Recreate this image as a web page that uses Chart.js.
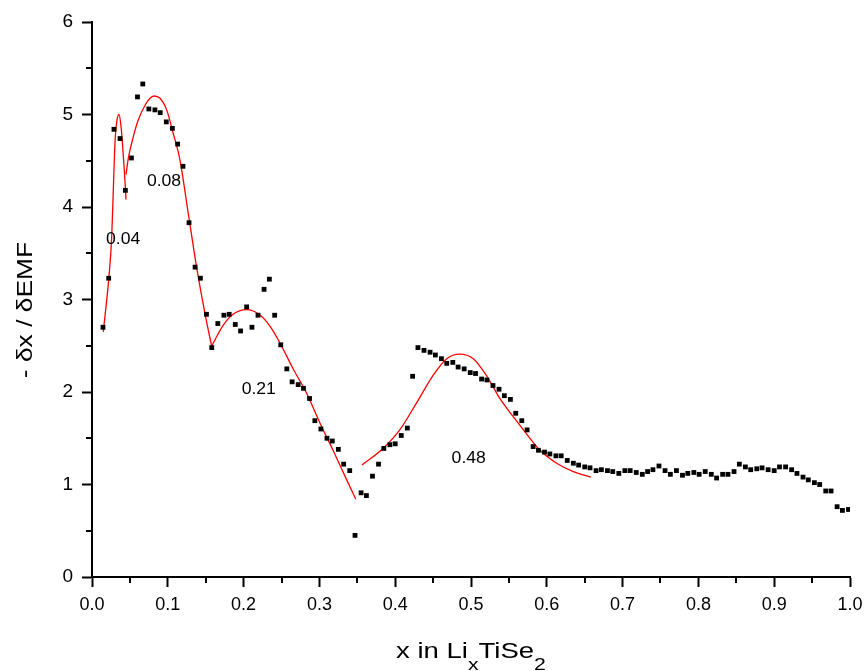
<!DOCTYPE html>
<html>
<head>
<meta charset="utf-8">
<script src="https://cdn.jsdelivr.net/npm/chart.js@4.4.1/dist/chart.umd.min.js"></script>
<style>
  html, body { margin: 0; padding: 0; background: #fff; }
  #wrap { width: 866px; height: 671px; position: relative; }
</style>
</head>
<body>
<div id="wrap"><canvas id="chart"></canvas></div>
<script>
// measured points: x in LixTiSe2 and -dx/dEMF
const xData = [
  0.0145, 0.022, 0.029, 0.037, 0.044, 0.052, 0.060, 0.067, 0.075, 0.083,
  0.090, 0.098, 0.106, 0.113, 0.120, 0.128, 0.136, 0.143, 0.151, 0.158,
  0.166, 0.174, 0.181, 0.189, 0.196, 0.204, 0.211, 0.219, 0.227, 0.234,
  0.241, 0.249, 0.257, 0.264, 0.272, 0.279, 0.287, 0.294, 0.302, 0.310,
  0.317, 0.325, 0.332, 0.340, 0.347, 0.355, 0.362, 0.370, 0.378, 0.385,
  0.393, 0.400, 0.408, 0.416, 0.423, 0.430, 0.438, 0.446, 0.453, 0.461,
  0.468, 0.476, 0.483, 0.491, 0.499, 0.506, 0.514, 0.521, 0.529, 0.537,
  0.544, 0.552, 0.559, 0.567, 0.574, 0.582, 0.589, 0.597, 0.604, 0.612,
  0.619, 0.627, 0.635, 0.642, 0.650, 0.657, 0.665, 0.672, 0.680, 0.687,
  0.695, 0.703, 0.710, 0.718, 0.726, 0.733, 0.740, 0.748, 0.756, 0.763,
  0.771, 0.779, 0.786, 0.794, 0.801, 0.809, 0.817, 0.824, 0.832, 0.839,
  0.847, 0.854, 0.862, 0.869, 0.877, 0.884, 0.892, 0.900, 0.907, 0.915,
  0.923, 0.930, 0.938, 0.945, 0.953, 0.960, 0.968, 0.975, 0.983, 0.990,
  0.998
];
const yData = [
  2.70, 3.23, 4.84, 4.74, 4.18, 4.53, 5.19, 5.33, 5.06, 5.05,
  5.02, 4.92, 4.85, 4.68, 4.44, 3.83, 3.35, 3.23, 2.84, 2.48,
  2.74, 2.83, 2.84, 2.73, 2.66, 2.92, 2.70, 2.83, 3.11, 3.22,
  2.83, 2.51, 2.25, 2.11, 2.08, 2.04, 1.93, 1.69, 1.60, 1.50,
  1.47, 1.38, 1.22, 1.15, 0.45, 0.91, 0.88, 1.09, 1.22, 1.39,
  1.43, 1.44, 1.53, 1.61, 2.17, 2.48, 2.45, 2.43, 2.40, 2.36,
  2.31, 2.32, 2.27, 2.25, 2.21, 2.20, 2.14, 2.13, 2.07, 2.03,
  1.96, 1.92, 1.77, 1.69, 1.59, 1.41, 1.37, 1.35, 1.33, 1.31,
  1.31, 1.26, 1.23, 1.21, 1.19, 1.18, 1.15, 1.16, 1.15, 1.14,
  1.12, 1.15, 1.15, 1.13, 1.11, 1.14, 1.16, 1.20, 1.15, 1.11,
  1.15, 1.10, 1.12, 1.13, 1.11, 1.14, 1.11, 1.07, 1.11, 1.11,
  1.14, 1.22, 1.19, 1.16, 1.17, 1.18, 1.16, 1.15, 1.19, 1.19,
  1.16, 1.12, 1.08, 1.05, 1.02, 1.00, 0.93, 0.93, 0.76, 0.72,
  0.73
];

// red fitted peaks
const fit004X = [0.0149, 0.0224, 0.0260, 0.0281, 0.0303, 0.0326, 0.0356, 0.0383, 0.0405, 0.0426, 0.0449];
const fit004Y = [2.65, 3.25, 3.68, 4.18, 4.69, 4.92, 5.00, 4.87, 4.65, 4.40, 4.08];

const fit008X = [0.0449, 0.048, 0.0545, 0.061, 0.070, 0.0765, 0.0818, 0.0897, 0.0985, 0.107, 0.116, 0.127, 0.138, 0.149, 0.158];
const fit008Y = [4.35, 4.53, 4.76, 4.94, 5.10, 5.175, 5.20, 5.175, 5.05, 4.80, 4.51, 3.93, 3.35, 2.85, 2.49];

const fit021X = [0.158, 0.173, 0.186, 0.204, 0.222, 0.235, 0.248, 0.266, 0.283, 0.301, 0.318, 0.336, 0.348];
const fit021Y = [2.50, 2.72, 2.84, 2.89, 2.83, 2.71, 2.53, 2.24, 1.99, 1.66, 1.37, 1.05, 0.84];

const fit048X = [0.356, 0.384, 0.406, 0.428, 0.450, 0.468, 0.485, 0.503, 0.521, 0.538, 0.556, 0.573, 0.591, 0.613, 0.635, 0.658];
const fit048Y = [1.21, 1.39, 1.59, 1.88, 2.18, 2.36, 2.41, 2.36, 2.17, 1.93, 1.73, 1.55, 1.37, 1.23, 1.14, 1.08];

const peakLabels = ['0.04', '0.08', '0.21', '0.48'];
const peakLabelX = [0.041, 0.095, 0.220, 0.497];
const peakLabelY = [3.65, 4.27, 2.03, 1.28];

const FONT = '"Liberation Sans", Arial, sans-serif';

function toXY(xs, ys) {
    return xs.map((x, i) => ({ x: x, y: ys[i] }));
}

function fitSet(xs, ys) {
    return {
        data: toXY(xs, ys),
        showLine: true,
        borderColor: '#ff0000',
        borderWidth: 1.3,
        pointRadius: 0,
        cubicInterpolationMode: 'monotone',
        fill: false,
    };
}

// the original lettering is a bit wider than Liberation Sans
function wideText(ctx, text, x, y, sx) {
    ctx.save();
    ctx.translate(x, y);
    ctx.scale(sx, 1);
    ctx.fillText(text, 0, 0);
    ctx.restore();
    return ctx.measureText(text).width * sx;
}

// minor ticks, peak labels and the axis titles (subscripts need manual drawing)
const extras = {
    id: 'extras',
    afterDraw(chart) {
        const { ctx, chartArea, scales } = chart;
        const xs = scales.x, ys = scales.y;
        ctx.save();
        ctx.strokeStyle = '#000';
        ctx.lineWidth = 2;
        ctx.beginPath();
        for (let v = 0.05; v < 1; v += 0.1) {
            const px = Math.round(xs.getPixelForValue(v));
            ctx.moveTo(px, chartArea.bottom);
            ctx.lineTo(px, chartArea.bottom + 6);
        }
        for (let v = 0.5; v < 6; v += 1) {
            const py = Math.round(ys.getPixelForValue(v));
            ctx.moveTo(chartArea.left, py);
            ctx.lineTo(chartArea.left - 6, py);
        }
        ctx.stroke();

        ctx.fillStyle = '#000';
        ctx.font = '16px ' + FONT;
        ctx.textAlign = 'left';
        ctx.textBaseline = 'middle';
        peakLabels.forEach((t, i) => {
            const w = ctx.measureText(t).width * 1.1;
            wideText(ctx, t, xs.getPixelForValue(peakLabelX[i]) - w / 2, ys.getPixelForValue(peakLabelY[i]), 1.1);
        });

        // y title
        ctx.save();
        ctx.translate(32, 310);
        ctx.rotate(-Math.PI / 2);
        ctx.font = '22px ' + FONT;
        ctx.textBaseline = 'alphabetic';
        const yt = '- \u03b4x / \u03b4EMF';
        const yw = ctx.measureText(yt).width * 1.2;
        wideText(ctx, yt, -yw / 2, 0, 1.2);
        ctx.restore();

        // x title with subscripts
        const parts = [['x in Li', 0], ['x', 1], ['TiSe', 0], ['2', 1]];
        const big = '22px ' + FONT, small = '17px ' + FONT;
        const sx = 1.25;
        let total = 0;
        parts.forEach(p => { ctx.font = p[1] ? small : big; total += ctx.measureText(p[0]).width * sx; });
        let cx = (chartArea.left + chartArea.right) / 2 - total / 2;
        const base = 658;
        ctx.textBaseline = 'alphabetic';
        parts.forEach(p => {
            ctx.font = p[1] ? small : big;
            cx += wideText(ctx, p[0], cx, p[1] ? base + 12 : base, sx);
        });
        ctx.restore();
    }
};

new Chart(document.getElementById('chart').getContext('2d'), {
    type: 'scatter',
    data: {
        datasets: [
            {
                data: toXY(xData, yData),
                pointStyle: 'rect',
                pointRadius: 3.4,
                backgroundColor: '#000',
                borderWidth: 0,
            },
            fitSet(fit004X, fit004Y),
            fitSet(fit008X, fit008Y),
            fitSet(fit021X, fit021Y),
            fitSet(fit048X, fit048Y),
        ]
    },
    options: {
        responsive: true,
        maintainAspectRatio: false,
        animation: false,
        layout: { padding: { top: 22, right: 16, left: 0, bottom: 0 } },
        plugins: { legend: { display: false }, tooltip: { enabled: false } },
        scales: {
            x: {
                type: 'linear', min: 0, max: 1,
                border: { display: true, color: '#000', width: 2 },
                grid: { drawOnChartArea: false, drawTicks: true, tickLength: 10, tickColor: '#000', tickWidth: 2 },
                ticks: {
                    stepSize: 0.1, color: '#000', padding: 7, maxRotation: 0,
                    font: { family: FONT, size: 18 },
                    callback: v => v.toFixed(1),
                },
                afterFit(scale) {
                    scale.height = 94;
                    scale.paddingLeft = 0;
                    scale.paddingRight = 0;
                },
            },
            y: {
                type: 'linear', min: 0, max: 6,
                border: { display: true, color: '#000', width: 2 },
                grid: { drawOnChartArea: false, drawTicks: true, tickLength: 10, tickColor: '#000', tickWidth: 2 },
                ticks: {
                    stepSize: 1, color: '#000', padding: 9,
                    font: { family: FONT, size: 19 },
                    callback: v => String(v),
                },
                afterFit(scale) {
                    scale.width = 92;
                    scale.paddingTop = 0;
                    scale.paddingBottom = 0;
                },
            },
        },
    },
    plugins: [extras],
});
</script>
</body>
</html>
